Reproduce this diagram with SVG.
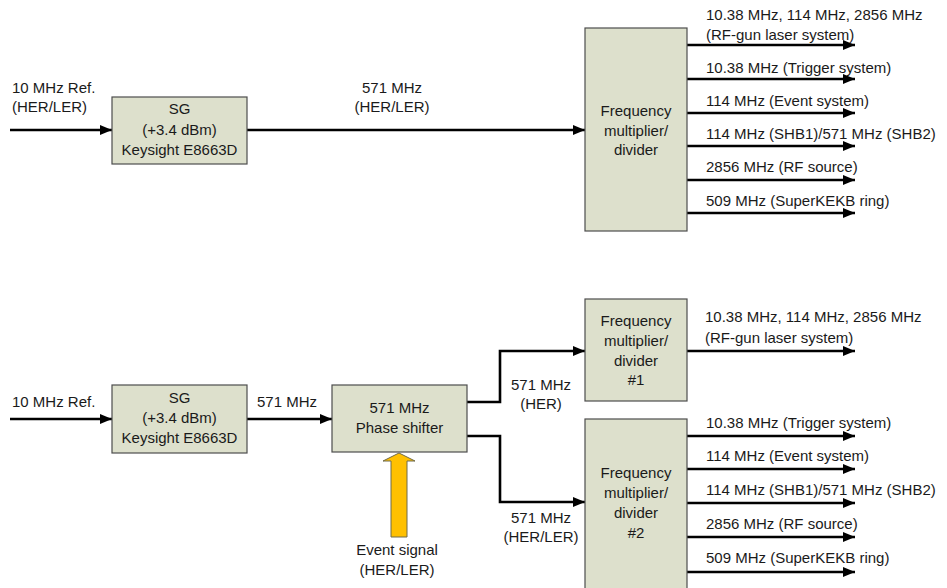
<svg xmlns="http://www.w3.org/2000/svg" width="947" height="588" viewBox="0 0 947 588">
<style>
text{font-family:"Liberation Sans",Arial,sans-serif;font-size:15px;fill:#1a1a1a}
.c{text-anchor:middle}
.box{fill:#dde0cc;stroke:#4d4d4d;stroke-width:1.2}
.ln{fill:none;stroke:#000;stroke-width:2.6;marker-end:url(#ah)}
.pl{fill:none;stroke:#000;stroke-width:2.6}
</style>
<defs>
<marker id="ah" markerUnits="userSpaceOnUse" viewBox="0 0 12 10" refX="12" refY="5" markerWidth="12" markerHeight="10" orient="auto">
<path d="M0,0 L12,5 L0,10 z" fill="#000"/>
</marker>
</defs>
<rect width="947" height="588" fill="#fff"/>

<g id="connectors">
<line class="ln" x1="10" y1="130" x2="112" y2="130"/>
<line class="ln" x1="247" y1="130" x2="585" y2="130"/>
<line class="ln" x1="687" y1="45" x2="855" y2="45"/>
<line class="ln" x1="687" y1="79" x2="855" y2="79"/>
<line class="ln" x1="687" y1="113" x2="855" y2="113"/>
<line class="ln" x1="687" y1="146" x2="855" y2="146"/>
<line class="ln" x1="687" y1="180" x2="855" y2="180"/>
<line class="ln" x1="687" y1="213" x2="855" y2="213"/>

<line class="ln" x1="10" y1="419" x2="112" y2="419"/>
<line class="ln" x1="247" y1="419" x2="332" y2="419"/>
<path class="ln" d="M467,402 H500 V351 H585"/>
<path class="ln" d="M467,436 H500 V502 H585"/>
<line class="ln" x1="687" y1="351" x2="855" y2="351"/>
<line class="ln" x1="687" y1="436" x2="855" y2="436"/>
<line class="ln" x1="687" y1="469" x2="855" y2="469"/>
<line class="ln" x1="687" y1="503" x2="855" y2="503"/>
<line class="ln" x1="687" y1="537" x2="855" y2="537"/>
<line class="ln" x1="687" y1="572" x2="855" y2="572"/>
<polygon points="391,537 391,461 383,461 399,453 415,461 407,461 407,537" fill="#ffc000" stroke="#6f6a4a" stroke-width="1"/>
</g>

<g id="labels">
<text x="12" y="93">10 MHz Ref.</text>
<text x="12" y="112">(HER/LER)</text>
<text class="c" x="392" y="93">571 MHz</text>
<text class="c" x="392" y="112">(HER/LER)</text>
<text x="706" y="20">10.38 MHz, 114 MHz, 2856 MHz</text>
<text x="706" y="40">(RF-gun laser system)</text>
<text x="706" y="73">10.38 MHz (Trigger system)</text>
<text x="706" y="106">114 MHz (Event system)</text>
<text x="706" y="139">114 MHz (SHB1)/571 MHz (SHB2)</text>
<text x="706" y="172">2856 MHz (RF source)</text>
<text x="706" y="206">509 MHz (SuperKEKB ring)</text>

<text x="12" y="407">10 MHz Ref.</text>
<text class="c" x="287" y="407">571 MHz</text>
<text class="c" x="541" y="390">571 MHz</text>
<text class="c" x="541" y="409">(HER)</text>
<text class="c" x="541" y="523">571 MHz</text>
<text class="c" x="541" y="542">(HER/LER)</text>
<text class="c" x="397" y="555">Event signal</text>
<text class="c" x="397" y="575">(HER/LER)</text>
<text x="705" y="322">10.38 MHz, 114 MHz, 2856 MHz</text>
<text x="705" y="343">(RF-gun laser system)</text>
<text x="706" y="428">10.38 MHz (Trigger system)</text>
<text x="706" y="461">114 MHz (Event system)</text>
<text x="706" y="495">114 MHz (SHB1)/571 MHz (SHB2)</text>
<text x="706" y="529">2856 MHz (RF source)</text>
<text x="706" y="563">509 MHz (SuperKEKB ring)</text>
</g>

<g id="sg1">
<rect class="box" x="112" y="97" width="135" height="67"/>
<text class="c" x="179.5" y="114">SG</text>
<text class="c" x="179.5" y="135">(+3.4 dBm)</text>
<text class="c" x="179.5" y="155">Keysight E8663D</text>
</g>
<g id="fmd1">
<rect class="box" x="585" y="28" width="102" height="203"/>
<text class="c" x="636" y="116">Frequency</text>
<text class="c" x="636" y="136">multiplier/</text>
<text class="c" x="636" y="155">divider</text>
</g>

<g id="sg2">
<rect class="box" x="112" y="385" width="135" height="68"/>
<text class="c" x="179.5" y="403">SG</text>
<text class="c" x="179.5" y="423">(+3.4 dBm)</text>
<text class="c" x="179.5" y="443">Keysight E8663D</text>
</g>
<g id="phase">
<rect class="box" x="332" y="385" width="135" height="67"/>
<text class="c" x="399.5" y="413">571 MHz</text>
<text class="c" x="399.5" y="433">Phase shifter</text>
</g>
<g id="fmd_1">
<rect class="box" x="585" y="299" width="102" height="102"/>
<text class="c" x="636" y="326">Frequency</text>
<text class="c" x="636" y="346">multiplier/</text>
<text class="c" x="636" y="366">divider</text>
<text class="c" x="636" y="385">#1</text>
</g>
<g id="fmd_2">
<rect class="box" x="585" y="419" width="102" height="176"/>
<text class="c" x="636" y="478">Frequency</text>
<text class="c" x="636" y="498">multiplier/</text>
<text class="c" x="636" y="518">divider</text>
<text class="c" x="636" y="538">#2</text>
</g>
</svg>
